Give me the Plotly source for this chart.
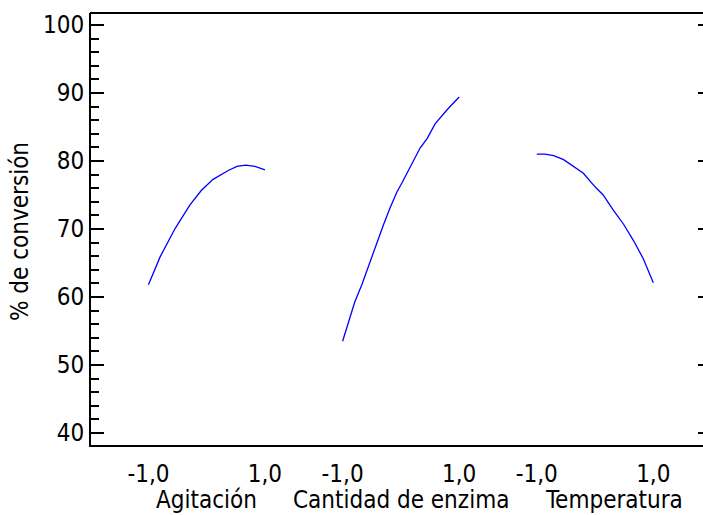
import plotly.graph_objects as go

# ---- data ----
factors = ["Agitación", "Cantidad de enzima", "Temperatura"]

agit_levels = [-1.0, -0.80, -0.54, -0.29, -0.09, 0.11, 0.37, 0.52, 0.67, 0.83, 1.0]
agit_conv = [61.8, 65.9, 70.1, 73.5, 75.7, 77.3, 78.6, 79.2, 79.4, 79.2, 78.7]

enz_levels = [-1.0, -0.87, -0.79, -0.67, -0.56, -0.39, -0.30, -0.19, -0.07, 0.02,
              0.19, 0.33, 0.45, 0.59, 0.79, 1.0]
enz_conv = [53.5, 56.9, 59.3, 61.8, 64.5, 68.6, 70.6, 73.0, 75.4, 76.8,
            79.7, 81.9, 83.3, 85.5, 87.5, 89.4]

temp_levels = [-1.0, -0.86, -0.71, -0.54, -0.20, 0.0, 0.14, 0.31, 0.49, 0.66, 0.83, 1.0]
temp_conv = [81.0, 81.0, 80.8, 80.2, 78.2, 76.2, 75.0, 72.8, 70.7, 68.3, 65.6, 62.1]

tick_levels = [-1.0, 1.0]
tick_text = ["-1,0", "1,0"]

y_title = "% de conversión"

# ---- layout constants ----
offsets = [0.0, 10 / 3, 20 / 3]           # horizontal placement of each factor block
title_shift = [0.0, 0.0, 0.33]
FONT = dict(family="DejaVu Sans Condensed, DejaVu Sans, Liberation Sans, sans-serif",
            size=24, color="black")
LINE_COLOR = "#0000ff"
YTICKS = [40, 50, 60, 70, 80, 90, 100]
PLOT_W = 703 - 91

series = [(agit_levels, agit_conv), (enz_levels, enz_conv), (temp_levels, temp_conv)]

fig = go.Figure()
for (lv, cv), off in zip(series, offsets):
    fig.add_trace(go.Scatter(
        x=[v + off for v in lv], y=cv, mode="lines",
        line=dict(color=LINE_COLOR, width=1.3), showlegend=False))

tickvals, ticktext = [], []
for off in offsets:
    for lv, tx in zip(tick_levels, tick_text):
        tickvals.append(lv + off)
        ticktext.append(tx)

fig.update_layout(
    width=703, height=515,
    margin=dict(l=91, r=0, t=13, b=70, pad=0, autoexpand=False),
    paper_bgcolor="white", plot_bgcolor="white",
    font=FONT, showlegend=False,
    xaxis=dict(range=[-1.986, 8.52], automargin=False, gridcolor="white",
               zeroline=False, showline=True, linecolor="black", linewidth=2,
               ticks="outside", ticklen=6, tickcolor="rgba(0,0,0,0)",
               tickvals=tickvals, ticktext=ticktext),
    yaxis=dict(range=[38.24, 101.76], automargin=False, gridcolor="white",
               zeroline=False, showline=True, linecolor="black", linewidth=2,
               ticks="inside", ticklen=13, tickwidth=2, tickcolor="black",
               tickvals=YTICKS,
               minor=dict(dtick=2, tick0=0, ticks="inside", ticklen=8,
                          tickwidth=2, tickcolor="black", showgrid=False)),
)

# top frame line (runs to the window edge, as in the reference)
fig.add_shape(type="line", xref="paper", yref="paper", x0=-1 / PLOT_W, x1=1,
              y0=1, y1=1, line=dict(color="black", width=2))

# right-hand inside ticks (axis line itself lies just past the window edge)
for v in YTICKS:
    fig.add_shape(type="line", xref="paper", yref="y", x0=1 - 5 / PLOT_W, x1=1,
                  y0=v, y1=v, line=dict(color="black", width=2))

for name, off, sh in zip(factors, offsets, title_shift):
    fig.add_annotation(x=off + sh, y=-0.1275, xref="x", yref="paper", text=name,
                       showarrow=False, xanchor="center", yanchor="middle", font=FONT)

fig.add_annotation(x=-0.116, y=0.493, xref="paper", yref="paper", text=y_title,
                   textangle=-90, showarrow=False, xanchor="center", yanchor="middle",
                   font=FONT)

fig.write_html("out.html")
